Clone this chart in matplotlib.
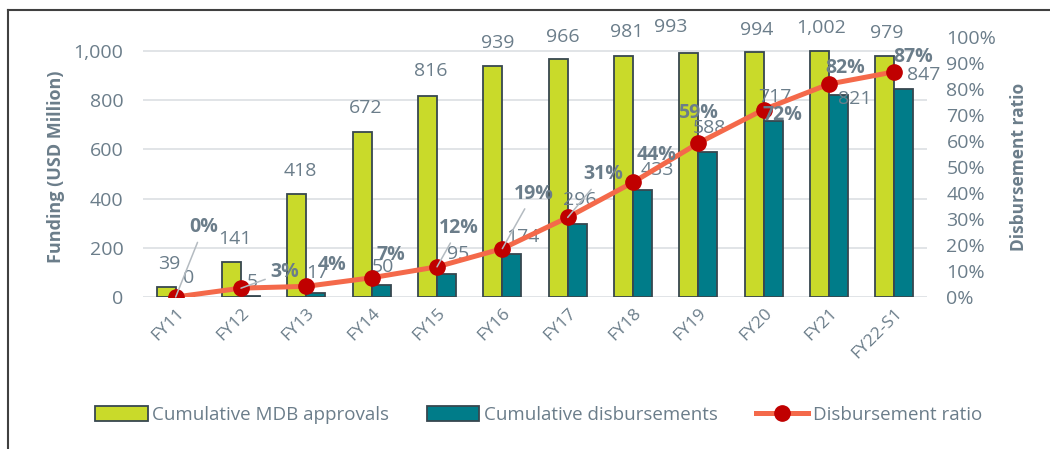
import numpy as np
from matplotlib import pyplot as plt
from matplotlib.patches import Patch
from matplotlib.lines import Line2D

plt.rcParams['font.family'] = ['Open Sans', 'DejaVu Sans']

categories = ['FY11', 'FY12', 'FY13', 'FY14', 'FY15', 'FY16', 'FY17', 'FY18', 'FY19', 'FY20', 'FY21', 'FY22-S1']
approvals = [39, 141, 418, 672, 816, 939, 966, 981, 993, 994, 1002, 979]
disbursements = [0, 5, 17, 50, 95, 174, 296, 433, 588, 717, 821, 847]
ratio = [0.0, 0.034, 0.041, 0.074, 0.116, 0.186, 0.306, 0.441, 0.592, 0.721, 0.819, 0.866]

GREEN = '#C9DA2A'
TEAL = '#007C89'
EDGE = '#37474F'
LINE = '#F4694A'
DOT = '#C00000'
TXT = '#6B7D8A'
GRID = '#D9DDE0'
LEAD = '#B4BBC1'

# label offsets in pixels (x, y) from the anchor point
green_off = [(3, 23), (3, 23), (3, 23), (3, 24), (3, 25), (5, 23), (5, 22), (3, 24), (-18, 26), (2, 22), (2, 23), (2, 23)]
teal_off = [(3, 19), (2, 14), (2, 20), (2, 18), (12, 20), (11, 17), (3, 24), (15, 20), (2, 24), (2, 24), (16, -4), (20, 14)]
pct_off = [(28, 70), (44, 16), (26, 21), (19, 23), (22, 39), (31, 55), (36, 43), (24, 27), (0, 30), (19, -5), (16, 16), (19, 15)]
leader = [True, True, False, False, True, True, True, False, False, False, False, False]

fig = plt.figure(figsize=(10.5, 4.49), dpi=100)
ax = fig.add_axes([143 / 1050, 1 - 297 / 449, 784 / 1050, 260 / 449])
ax2 = ax.twinx()

x = np.arange(len(categories))
w = 0.29
ax.bar(x - w / 2, approvals, w, color=GREEN, edgecolor=EDGE, linewidth=1.3, zorder=3)
ax.bar(x + w / 2, disbursements, w, color=TEAL, edgecolor=EDGE, linewidth=1.3, zorder=3)

ax.set_xlim(-0.5, len(categories) - 0.5)
ax.set_ylim(0, 1057)
ax.set_yticks(range(0, 1001, 200))
ax.set_yticklabels([f'{v:,}' for v in range(0, 1001, 200)])
ax.yaxis.grid(True, color=GRID, linewidth=1.1, zorder=0)
ax.set_axisbelow(True)
for s in ax.spines.values():
    s.set_visible(False)
for s in ax2.spines.values():
    s.set_visible(False)
ax.tick_params(axis='both', length=0, labelsize=14, labelcolor=TXT)
ax.tick_params(axis='y', pad=14)
ax.tick_params(axis='x', pad=6, labelsize=12.5)
ax.set_xticks(x)
ax.set_xticklabels(categories, rotation=45, ha='right', rotation_mode='anchor')
ax.set_ylabel('Funding (USD Million)', fontsize=13, fontweight='bold', color=TXT, labelpad=6)

for i, v in enumerate(approvals):
    ax.annotate(f'{v:,}', (x[i] - w / 2, v), xytext=green_off[i], textcoords='offset pixels',
                ha='center', va='center', fontsize=14, color=TXT, zorder=6)
for i, v in enumerate(disbursements):
    ax.annotate(f'{v:,}', (x[i] + w / 2, v), xytext=teal_off[i], textcoords='offset pixels',
                ha='center', va='center', fontsize=14, color=TXT, zorder=6)

ax2.plot(x, ratio, color=LINE, linewidth=3.6, marker='o', markersize=11,
         markerfacecolor=DOT, markeredgecolor=DOT, zorder=4)
ax2.set_ylim(0, 1.0)
ax2.set_yticks(np.arange(0, 1.01, 0.1))
ax2.set_yticklabels([f'{int(round(t * 100))}%' for t in np.arange(0, 1.01, 0.1)])
ax2.tick_params(axis='y', length=0, labelsize=14, labelcolor=TXT, pad=14)
ax2.set_ylabel('Disbursement ratio', fontsize=12.5, fontweight='bold', color=TXT, labelpad=10)

for i, r in enumerate(ratio):
    props = dict(arrowstyle='-', color=LEAD, lw=1.1, shrinkA=2, shrinkB=0) if leader[i] else None
    ax2.annotate(f'{r:.0%}', (x[i], r), xytext=pct_off[i], textcoords='offset pixels',
                 ha='center', va='center', fontsize=14, fontweight='bold', color=TXT,
                 arrowprops=props, zorder=7)

handles = [Patch(facecolor=GREEN, edgecolor=EDGE, linewidth=1.3),
           Patch(facecolor=TEAL, edgecolor=EDGE, linewidth=1.3),
           Line2D([], [], color=LINE, linewidth=3.6, marker='o', markersize=11,
                  markerfacecolor=DOT, markeredgecolor=DOT)]
labels = ['Cumulative MDB approvals', 'Cumulative disbursements', 'Disbursement ratio']
leg = fig.legend(handles, labels, loc='center', bbox_to_anchor=(0.513, 0.0757), ncol=3,
                 frameon=False, fontsize=13.5, handlelength=2.8, handleheight=0.8,
                 handletextpad=0.25, columnspacing=2.0)
for t in leg.get_texts():
    t.set_color(TXT)

# chart border (top and left only)
fig.add_artist(Line2D([8 / 1050, 1], [1 - 10 / 449, 1 - 10 / 449], color='#404040', linewidth=1.5))
fig.add_artist(Line2D([8 / 1050, 8 / 1050], [0, 1 - 10 / 449], color='#404040', linewidth=1.5))

plt.savefig('out.png', dpi=100)
